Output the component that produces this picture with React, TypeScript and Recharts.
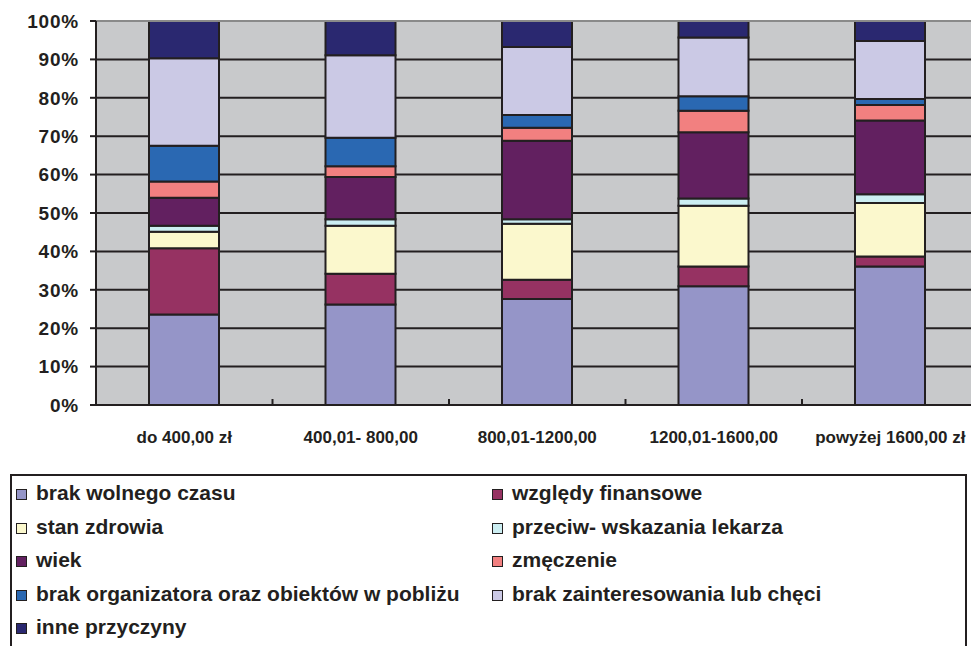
import React from 'react';
import { BarChart, Bar, XAxis, YAxis, CartesianGrid, ReferenceLine } from 'recharts';

const categories = ['do 400,00 zł', '400,01- 800,00', '800,01-1200,00', '1200,01-1600,00', 'powyżej 1600,00 zł'];

const brakWolnegoCzasu = [23.6, 26.2, 27.6, 30.9, 36.1];
const wzgledyFinansowe = [17.2, 8.0, 5.0, 5.2, 2.6];
const stanZdrowia = [4.3, 12.5, 14.6, 15.8, 13.9];
const przeciwwskazania = [1.6, 1.7, 1.2, 1.9, 2.3];
const wiek = [7.3, 11.0, 20.4, 17.2, 19.2];
const zmeczenie = [4.2, 2.8, 3.4, 5.6, 4.0];
const brakOrganizatora = [9.3, 7.4, 3.3, 3.8, 1.6];
const brakZainteresowania = [22.8, 21.5, 17.7, 15.3, 15.1];
const innePrzyczyny = [9.7, 8.9, 6.8, 4.3, 5.2];

const yTicks = [0, 10, 20, 30, 40, 50, 60, 70, 80, 90, 100];
const gridValues = [0, 10, 20, 30, 40, 50, 60, 70, 80, 90];

const series = [
  { key: 's1', name: 'brak wolnego czasu', values: brakWolnegoCzasu, color: '#9595C8' },
  { key: 's2', name: 'względy finansowe', values: wzgledyFinansowe, color: '#963262' },
  { key: 's3', name: 'stan zdrowia', values: stanZdrowia, color: '#FBF8CD' },
  { key: 's4', name: 'przeciw- wskazania lekarza', values: przeciwwskazania, color: '#CCEEF2' },
  { key: 's5', name: 'wiek', values: wiek, color: '#622060' },
  { key: 's6', name: 'zmęczenie', values: zmeczenie, color: '#F28080' },
  { key: 's7', name: 'brak organizatora oraz obiektów w pobliżu', values: brakOrganizatora, color: '#2A68B2' },
  { key: 's8', name: 'brak zainteresowania lub chęci', values: brakZainteresowania, color: '#CBC9E5' },
  { key: 's9', name: 'inne przyczyny', values: innePrzyczyny, color: '#2A2870' },
];

const data = categories.map((c, i) => {
  const row: Record<string, any> = { category: c };
  series.forEach((s) => {
    row[s.key] = s.values[i];
  });
  return row;
});

const FONT = '"Liberation Sans", Arial, Helvetica, sans-serif';
const DARK = '#231F20';
const W = 990;
const H = 690;
const PLOT_TOP = 21;
const PLOT_BOTTOM = 405;
const Y_AXIS_W = 96;
const RIGHT_M = 11.5;
const HALF_CAT = (W - Y_AXIS_W - RIGHT_M) / categories.length / 2;

const XTick = (props: any) => {
  const { x, y, payload } = props;
  return (
    <g>
      <line x1={x - HALF_CAT} x2={x - HALF_CAT} y1={y} y2={y - 6} stroke={DARK} strokeWidth={2} />
      <text
        x={x}
        y={y + 38}
        textAnchor="middle"
        fontFamily={FONT}
        fontWeight={700}
        fontSize={17}
        fill={DARK}
      >
        {payload.value}
      </text>
    </g>
  );
};

export default function App() {
  return (
    <div
      style={{
        position: 'fixed',
        left: 0,
        top: 0,
        width: 971,
        height: 646,
        overflow: 'hidden',
        background: '#fff',
        fontFamily: FONT,
      }}
    >
      <div style={{ position: 'absolute', left: 0, top: 0 }}>
        <BarChart
          width={W}
          height={H}
          data={data}
          margin={{ top: PLOT_TOP, right: RIGHT_M, left: 0, bottom: 0 }}
          barSize={70}
        >
          <CartesianGrid
            vertical={false}
            stroke={DARK}
            strokeWidth={2}
            fill="#C8C9CB"
            horizontalValues={gridValues}
          />
          <ReferenceLine y={100} stroke="#8a8a8a" strokeWidth={2} />
          <XAxis
            dataKey="category"
            interval={0}
            height={H - PLOT_BOTTOM}
            tickLine={false}
            tickSize={0}
            tickMargin={0}
            axisLine={{ stroke: DARK, strokeWidth: 2 }}
            tick={<XTick />}
          />
          <YAxis
            type="number"
            domain={[0, 100]}
            ticks={yTicks}
            allowDataOverflow
            width={Y_AXIS_W}
            tickFormatter={(v: number) => `${v}%`}
            tickSize={6}
            tickMargin={11}
            tickLine={{ stroke: DARK, strokeWidth: 2 }}
            axisLine={{ stroke: DARK, strokeWidth: 2 }}
            tick={{ fontSize: 19, fontWeight: 700, fill: DARK, fontFamily: FONT, letterSpacing: 0.8 }}
          />
          {series.map((s) => (
            <Bar
              key={s.key}
              dataKey={s.key}
              name={s.name}
              stackId="a"
              fill={s.color}
              stroke={DARK}
              strokeWidth={2}
              isAnimationActive={false}
            />
          ))}
        </BarChart>
      </div>
      <div
        style={{
          position: 'absolute',
          left: 10,
          top: 474,
          width: 953,
          height: 200,
          border: `2px solid ${DARK}`,
          boxSizing: 'content-box',
        }}
      >
        {series.map((s, i) => {
          const col = i % 2;
          const row = Math.floor(i / 2);
          return (
            <div
              key={s.key}
              style={{
                position: 'absolute',
                left: col === 0 ? 4 : 480,
                top: row * 33.5,
                height: 33.5,
                lineHeight: '33.5px',
                fontSize: 21,
                fontWeight: 700,
                color: DARK,
                whiteSpace: 'nowrap',
              }}
            >
              <span
                style={{
                  display: 'inline-block',
                  width: 9,
                  height: 9,
                  background: s.color,
                  border: `1.5px solid ${DARK}`,
                  marginRight: 9,
                }}
              />
              {s.name}
            </div>
          );
        })}
      </div>
    </div>
  );
}
